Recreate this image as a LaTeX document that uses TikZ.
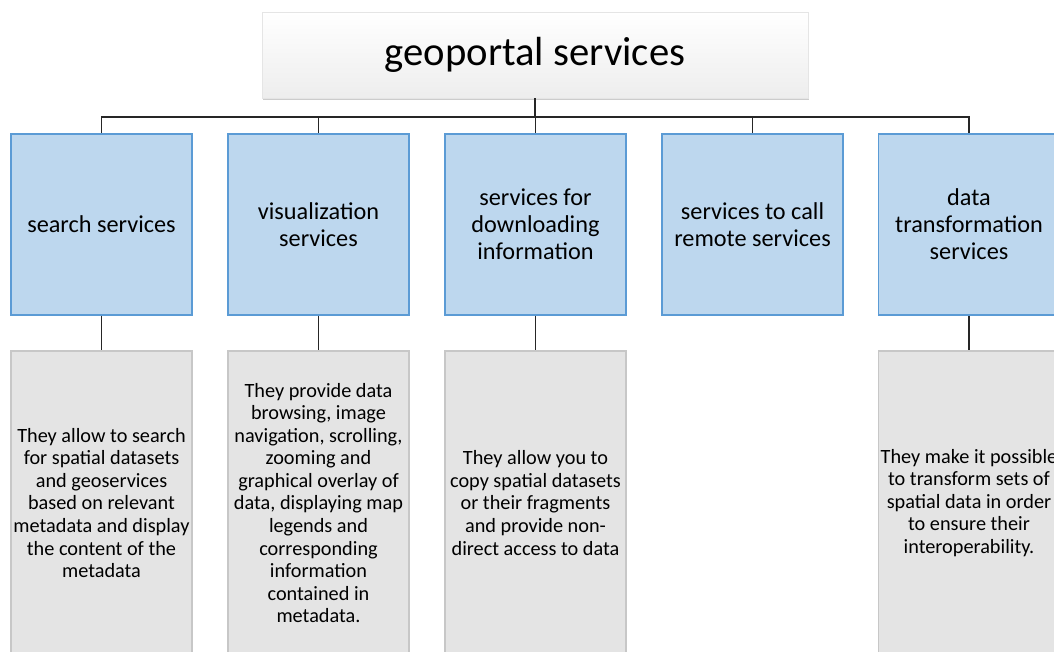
\documentclass[tikz,border=0pt]{standalone}
\usepackage{fontspec}
\setmainfont{Carlito}
\usepackage{tikz}
\usetikzlibrary{shadows}
\definecolor{boxblue}{HTML}{BDD7EE}
\definecolor{edgeblue}{HTML}{5B9BD5}
\definecolor{descgrey}{HTML}{E4E4E4}

\begin{document}
\begin{tikzpicture}[x=0.75pt,y=0.75pt,yscale=-1,xscale=1,
    titlebox/.style={draw=black!10, top color=white, bottom color=black!7,
      drop shadow={shadow xshift=1pt, shadow yshift=-1.8pt, opacity=0.4},
      minimum width=409.5pt, minimum height=64.5pt, inner sep=0pt,
      font=\fontsize{30.5}{36}\selectfont},
    servbox/.style={draw=edgeblue, fill=boxblue, line width=0.9pt,
      minimum width=135.75pt, minimum height=135.75pt, inner sep=0pt,
      align=center, font=\fontsize{18.2}{20.25}\selectfont},
    descbox/.style={draw=black!22, fill=descgrey, line width=0.8pt,
      drop shadow={shadow xshift=0.8pt, shadow yshift=-0.8pt, opacity=0.25},
      minimum width=135.75pt, minimum height=228pt, inner xsep=0pt,
      align=center, font=\fontsize{15.2}{16.9}\selectfont},
    link/.style={draw=black!85, line width=1.4pt}]
  \useasboundingbox (0,0) rectangle (1054,652);
  \clip (0,0) rectangle (1054,652);

  % Title
  \node [titlebox] (top) at (535,55) {geoportal services};

  % Service boxes
  \node [servbox] (srv1) at (101.5,224.5) {search services};
  \node [servbox] (srv2) at (318.5,224.5) {visualization\\services};
  \node [servbox] (srv3) at (535.5,224.5) {services for\\downloading\\information};
  \node [servbox] (srv4) at (752.5,224.5) {services to call\\remote services};
  \node [servbox] (srv5) at (969,224.5) {data\\transformation\\services};

  % Descriptions
  \node [descbox] (desc1) at (101.5,503) {They allow to search\\for spatial datasets\\and geoservices\\based on relevant\\metadata and display\\the content of the\\metadata};
  \node [descbox] (desc2) at (318.5,503) {They provide data\\browsing, image\\navigation, scrolling,\\zooming and\\graphical overlay of\\data, displaying map\\legends and\\corresponding\\information\\contained in\\metadata.};
  \node [descbox] (desc3) at (535.5,503) {They allow you to\\copy spatial datasets\\or their fragments\\and provide non-\\direct access to data};
  \node [descbox] (desc5) at (969,503) {They make it possible\\to transform sets of\\spatial data in order\\to ensure their\\interoperability.};

  % Connectors
  \foreach \s in {1,...,5}
    \draw [link] (top.south) -- ++(0,19) -| (srv\s.north);
  \foreach \s in {1,2,3,5}
    \draw [link] (srv\s.south) -- (desc\s.north);
\end{tikzpicture}
\end{document}
